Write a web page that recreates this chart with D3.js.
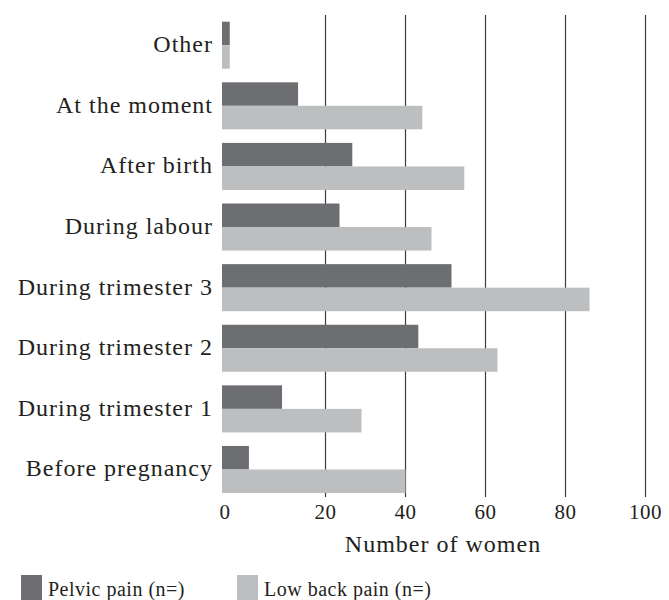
<!DOCTYPE html>
<html>
<head>
<meta charset="utf-8">
<script src="https://cdn.jsdelivr.net/npm/d3@7"></script>
<style>
  body { margin: 0; background: #fff; }
  svg { display: block; font-family: "Liberation Serif", serif; }
</style>
</head>
<body>
<div id="chart"></div>
<script>
const categories = ["Other", "At the moment", "After birth", "During labour",
    "During trimester 3", "During trimester 2", "During trimester 1", "Before pregnancy"];
const pelvicPain = [1.5, 14.7, 26.7, 23.5, 51.5, 43.2, 11.6, 5.2];
const lowBackPain = [1.5, 44.2, 54.7, 46.5, 86, 63, 29, 40];
const tickValues = [0, 20, 40, 60, 80, 100];
const seriesNames = ["Pelvic pain (n=)", "Low back pain (n=)"];
const colors = ["#6d6e71", "#bcbec0"];

const width = 669;
const height = 600;

const svg = d3.select("#chart").append("svg")
    .attr("width", width)
    .attr("height", height);

// the source axis is uneven: 0 to 20 is wider than the other steps
const x = d3.scaleLinear()
    .domain([0, 20, 100])
    .range([222, 325.5, 645.5]);

const y = d3.scaleBand()
    .domain(categories)
    .range([0, 514.7])
    .paddingInner(0.224)
    .paddingOuter(0.358);

const ySub = d3.scaleBand()
    .domain([0, 1])
    .range([0, y.bandwidth()]);

const data = categories.map((c, i) => ({
    name: c,
    values: [pelvicPain[i], lowBackPain[i]]
}));

// grid lines
svg.append("g")
    .selectAll("line")
    .data(tickValues.filter(d => d > 0))
    .join("line")
    .attr("x1", d => x(d))
    .attr("x2", d => x(d))
    .attr("y1", 15)
    .attr("y2", 497)
    .attr("stroke", "#3c3c3c")
    .attr("stroke-width", 1.2);

const group = svg.append("g")
    .selectAll("g")
    .data(data)
    .join("g")
    .attr("transform", d => `translate(0,${y(d.name)})`);

group.selectAll("rect")
    .data(d => d.values)
    .join("rect")
    .attr("x", x(0))
    .attr("y", (d, i) => ySub(i))
    .attr("width", d => x(d) - x(0))
    .attr("height", ySub.bandwidth())
    .attr("fill", (d, i) => colors[i]);

// category labels
svg.append("g")
    .selectAll("text")
    .data(categories)
    .join("text")
    .attr("x", 213)
    .attr("y", d => y(d) + y.bandwidth() / 2 + 7)
    .attr("text-anchor", "end")
    .attr("font-size", 24)
    .attr("letter-spacing", 1)
    .attr("fill", "#231f20")
    .text(d => d);

// x axis tick labels
svg.append("g")
    .selectAll("text")
    .data(tickValues)
    .join("text")
    .attr("x", d => x(d) + (d === 0 ? 3 : 0))
    .attr("y", 519)
    .attr("text-anchor", "middle")
    .attr("font-size", 21)
    .attr("letter-spacing", 0.5)
    .attr("fill", "#231f20")
    .text(d => d);

svg.append("text")
    .attr("x", 443)
    .attr("y", 552)
    .attr("text-anchor", "middle")
    .attr("font-size", 24)
    .attr("letter-spacing", 1)
    .attr("fill", "#231f20")
    .text("Number of women");

// legend
const legendX = [21, 237];
const legend = svg.append("g")
    .selectAll("g")
    .data(seriesNames)
    .join("g")
    .attr("transform", (d, i) => `translate(${legendX[i]},575)`);

legend.append("rect")
    .attr("width", 21)
    .attr("height", 25)
    .attr("fill", (d, i) => colors[i]);

legend.append("text")
    .attr("x", 27)
    .attr("y", 21)
    .attr("font-size", 20)
    .attr("letter-spacing", 0.5)
    .attr("fill", "#231f20")
    .text(d => d);
</script>
</body>
</html>
